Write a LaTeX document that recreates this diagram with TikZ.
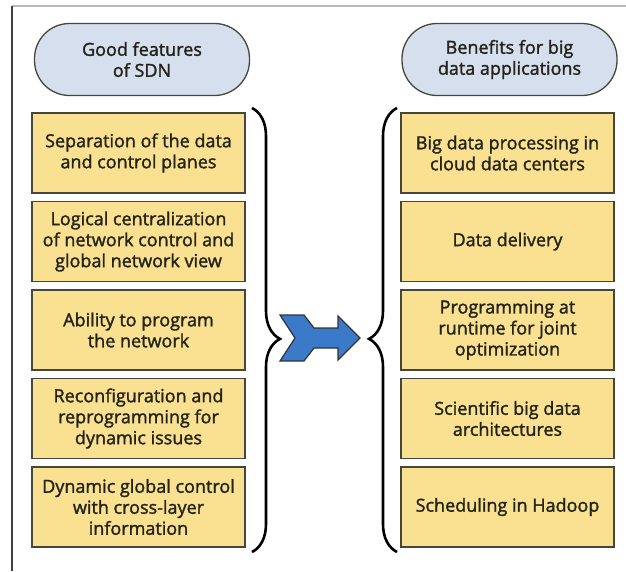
\documentclass[tikz,border=0pt]{standalone}
\usepackage{fontspec}
\setmainfont{Open Sans}
\newfontfamily\boxfont{Open Sans}[FakeBold=1.6]
\usetikzlibrary{decorations.pathreplacing}
\definecolor{pillblue}{RGB}{214,223,238}
\definecolor{boxyellow}{RGB}{250,225,145}
\definecolor{edgegray}{RGB}{70,70,60}
\definecolor{arrowblue}{RGB}{58,122,200}
\definecolor{textdark}{RGB}{35,35,25}
\tikzset{
  pill/.style={draw=edgegray, line width=1.3pt, fill=pillblue, rounded corners=35pt,
    minimum width=215pt, minimum height=72pt, align=center, text=textdark,
    font=\boxfont\fontsize{18}{21}\selectfont},
  feature/.style={draw=edgegray, line width=1.3pt, fill=boxyellow,
    minimum width=213pt, minimum height=80pt, align=center, text=textdark,
    inner sep=2pt, font=\boxfont\fontsize{18}{21}\selectfont},
  curly/.style={decorate, decoration={brace, amplitude=28pt, aspect=0.52},
    line width=2.6pt, black},
}
\begin{document}
\begin{tikzpicture}[x=1pt, y={(0pt,-1pt)}]
      \useasboundingbox (0,0) rectangle (626,571);
      % frame
      \draw[gray!55, line width=1.5pt] (12,6) -- (626,6);
      \draw[black!75, line width=2pt] (12,6) -- (12,571);
      % headers
      \node[pill] (sdn) at (142,59.5) {Good features\\of SDN};
      \node[pill] (bigdata) at (509.5,59.5) {Benefits for big\\data applications};
      % left column
      \node[feature] (f1) at (138.5,153) {Separation of the data\\and control planes};
      \node[feature] (f2) at (138.5,241.5) {Logical centralization\\of network control and\\global network view};
      \node[feature] (f3) at (138.5,330) {Ability to program\\the network};
      \node[feature] (f4) at (138.5,418.5) {Reconfiguration and\\reprogramming for\\dynamic issues};
      \node[feature] (f5) at (138.5,507) {Dynamic global control\\with cross-layer\\information};
      % right column
      \node[feature] (b1) at (507.5,153) {Big data processing in\\cloud data centers};
      \node[feature] (b2) at (507.5,241.5) {Data delivery};
      \node[feature] (b3) at (507.5,330) {Programming at\\runtime for joint\\optimization};
      \node[feature] (b4) at (507.5,418.5) {Scientific big data\\architectures};
      \node[feature] (b5) at (507.5,507) {Scheduling in Hadoop};
      % braces
      \coordinate (ltop) at (252,108);
      \coordinate (lbot) at (252,552);
      \coordinate (rtop) at (397,108);
      \coordinate (rbot) at (397,552);
      \draw[curly] (ltop) -- (lbot);
      \draw[curly, decoration={mirror}] (rtop) -- (rbot);
      % arrow
      \draw[fill=arrowblue, draw=black!80, line width=1.2pt, line join=miter]
        (280,315) -- (304,315) -- (314,328) -- (338,328) -- (338,316)
        -- (360,338) -- (338,360) -- (338,348) -- (314,348) -- (304,361)
        -- (280,361) -- (295,338) -- cycle;
    \end{tikzpicture}
\end{document}
